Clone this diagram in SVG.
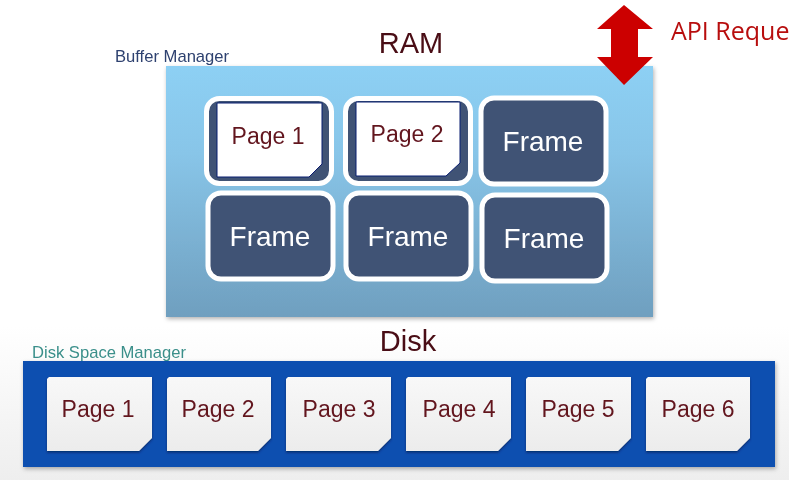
<svg xmlns="http://www.w3.org/2000/svg" width="789" height="480" viewBox="0 0 789 480">
<defs>
<linearGradient id="bg" x1="0" y1="0" x2="0" y2="1"><stop offset="0.68" stop-color="#ffffff"/><stop offset="1" stop-color="#eeeeee"/></linearGradient>
<linearGradient id="ram" x1="0" y1="0" x2="0" y2="1"><stop offset="0" stop-color="#8dd0f4"/><stop offset="0.35" stop-color="#88c5e8"/><stop offset="1" stop-color="#6f9fbf"/></linearGradient>
<linearGradient id="pg" x1="0" y1="0" x2="0" y2="1"><stop offset="0" stop-color="#f8f8f8"/><stop offset="1" stop-color="#ececec"/></linearGradient>
<filter id="sh" x="-5%" y="-5%" width="110%" height="112%"><feDropShadow dx="1" dy="2" stdDeviation="2" flood-color="#000" flood-opacity="0.3"/></filter>
<filter id="sm" x="-5%" y="-5%" width="110%" height="112%"><feDropShadow dx="0" dy="1.5" stdDeviation="1" flood-color="#001a50" flood-opacity="0.7"/></filter>
<filter id="soft" x="0" y="0" width="100%" height="100%"><feGaussianBlur stdDeviation="0.4"/></filter>
</defs>
<style>
text{font-family:"Liberation Sans",Arial,sans-serif}
.frame{fill:#3f5274;stroke:#fff;stroke-width:5}
.ft{fill:#fff;font-size:28px;text-anchor:middle}
.pt{fill:#62141f;font-size:23px;text-anchor:middle}
.title{fill:#4a0d14;font-size:29px;text-anchor:middle}
.wp{fill:#fff;stroke:#0a1f70;stroke-width:1}
.dp{fill:url(#pg);filter:url(#sm)}
</style>
<g filter="url(#soft)">
<rect width="789" height="480" fill="url(#bg)"/>
<g id="ram-panel"><rect x="166" y="66" width="487" height="251" fill="url(#ram)" filter="url(#sh)"/></g>
<g id="disk-panel"><rect x="23" y="361" width="752" height="106" fill="#0a50b0" filter="url(#sh)"/></g>
<text x="115" y="62" font-size="16.6" fill="#2f4270">Buffer Manager</text>
<text x="411" y="53" class="title">RAM</text>
<text x="408" y="351" class="title">Disk</text>
<text x="32" y="358" font-size="16.6" fill="#3a8f8a">Disk Space Manager</text>
<g id="api-arrow"><path d="M624 5L653 29H638V57H653L624 85L597 57H611V29H597Z" fill="#cc0000"/></g>
<text x="671" y="40" font-size="25" fill="#b81010" style="font-family:'Open Sans','Liberation Sans',sans-serif">API Reque</text>

<g id="slot-page-1"><rect x="206.500" y="98.500" width="125" height="85" rx="13" class="frame"/>
<path d="M217 103H322V164L309 177H217Z" class="wp"/><text x="268" y="144" class="pt">Page 1</text></g>
<g id="slot-page-2"><rect x="345.500" y="98.500" width="125" height="85" rx="13" class="frame"/>
<path d="M356 102H460V163L446 176H356Z" class="wp"/><text x="407" y="142" class="pt">Page 2</text></g>
<g id="frame-3"><rect x="481" y="98" width="125" height="86" rx="13" class="frame"/><text x="543" y="151" class="ft">Frame</text></g>
<g id="frame-4"><rect x="208" y="193" width="125" height="86" rx="13" class="frame"/><text x="270" y="246" class="ft">Frame</text></g>
<g id="frame-5"><rect x="346" y="193" width="125" height="86" rx="13" class="frame"/><text x="408" y="246" class="ft">Frame</text></g>
<g id="frame-6"><rect x="482" y="195" width="125" height="86" rx="13" class="frame"/><text x="544" y="248" class="ft">Frame</text></g>

<g id="disk-page-1"><path d="M49 377H152V438L139 451H47V379Z" class="dp"/><text x="98" y="417" class="pt">Page 1</text></g>
<g id="disk-page-2"><path d="M169 377H271V438L258 451H167V379Z" class="dp"/><text x="218" y="417" class="pt">Page 2</text></g>
<g id="disk-page-3"><path d="M288 377H391V438L378 451H286V379Z" class="dp"/><text x="339" y="417" class="pt">Page 3</text></g>
<g id="disk-page-4"><path d="M408 377H511V438L498 451H406V379Z" class="dp"/><text x="459" y="417" class="pt">Page 4</text></g>
<g id="disk-page-5"><path d="M528 377H631V438L618 451H526V379Z" class="dp"/><text x="578" y="417" class="pt">Page 5</text></g>
<g id="disk-page-6"><path d="M648 377H750V438L737 451H646V379Z" class="dp"/><text x="698" y="417" class="pt">Page 6</text></g>
</g>
</svg>
